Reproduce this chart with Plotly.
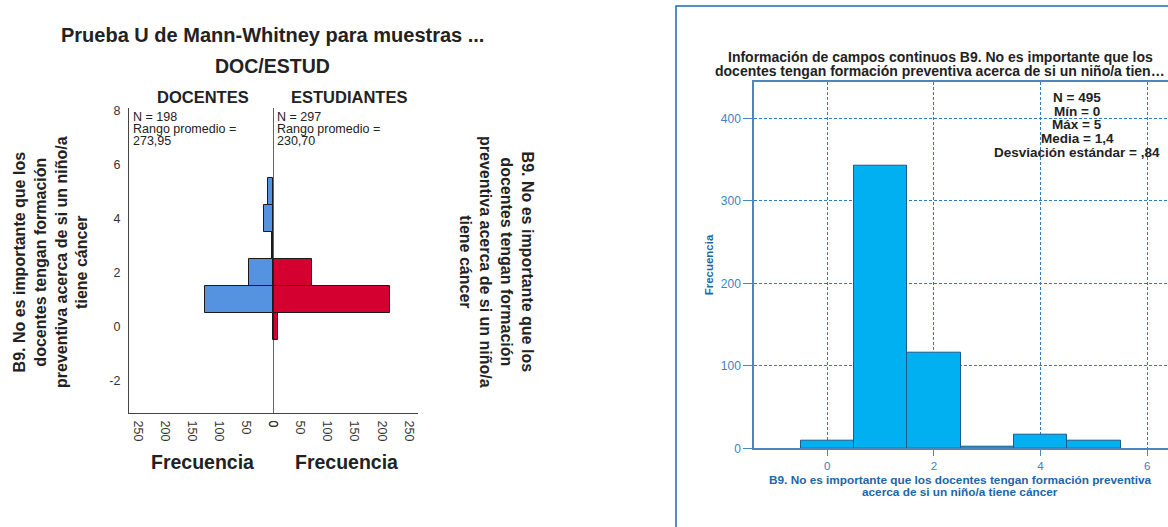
import plotly.graph_objects as go

# ---------------- data ----------------
categories = [0, 1, 2, 3, 4, 5]
docentes = [0, 126, 44, 2, 17, 9]
estudiantes = [9, 216, 72, 0, 0, 0]
total = [d + e for d, e in zip(docentes, estudiantes)]

freq_ticks = [0, 50, 100, 150, 200, 250]
left_y_ticks = [-2, 0, 2, 4, 6, 8]
left_y_labels = ["-2", "0", "2", "4", "6", "8"]
right_x_ticks = [0, 2, 4, 6]
right_y_ticks = [0, 100, 200, 300, 400]

left_title = "Prueba U de Mann-Whitney para muestras ..."
group_title = "DOC/ESTUD"
group_names = ["DOCENTES", "ESTUDIANTES"]
group_stats = [["N = 198", "Rango promedio =", "273,95"],
               ["N = 297", "Rango promedio =", "230,70"]]
var_label = "B9. No es importante que los<br>docentes tengan formación<br>preventiva acerca de si un niño/a<br>tiene cáncer"
right_title_lines = ["Información de campos continuos B9. No es importante que los",
                     "docentes tengan formación preventiva acerca de si un niño/a tien…"]
right_stats = ["N = 495", "Mín = 0", "Máx = 5", "Media = 1,4", "Desviación estándar = ,84"]
right_xtitle_lines = ["B9. No es importante que los docentes tengan formación preventiva",
                      "acerca de si un niño/a tiene cáncer"]

W, H = 1168, 527
def px(x):
    return x / W
def py(y):
    return 1 - y / H

FONT = "Arial, Liberation Sans, sans-serif"
DARK = "#222222"
BLUE_T = "#1b66a8"
BLUE_K = "#3f80c0"
BLUE_G = "#2f7bc4"

fig = go.Figure()

fig.add_trace(go.Bar(x=docentes, y=categories, orientation="h", width=1,
                     marker=dict(color="#5592e0", line=dict(color="#1a1a1a", width=1)),
                     xaxis="x", yaxis="y", showlegend=False))
fig.add_trace(go.Bar(x=estudiantes, y=categories, orientation="h", width=1,
                     marker=dict(color="#d40030", line=dict(color="#1a1a1a", width=1)),
                     xaxis="x2", yaxis="y", showlegend=False))
fig.add_trace(go.Bar(x=categories, y=total, width=1,
                     marker=dict(color="#00b0f0", line=dict(color="#1c5a8c", width=1)),
                     xaxis="x3", yaxis="y3", showlegend=False))

ytop, ybot = 108, 413
y_range = [-3.19, 8.1]
fig.update_layout(
    width=W, height=H, autosize=False, margin=dict(l=0, r=0, t=0, b=0, autoexpand=False),
    paper_bgcolor="white", plot_bgcolor="white",
    font=dict(family=FONT, color=DARK),
    bargap=0,
    xaxis=dict(domain=[px(129), px(273)], range=[267, 0], anchor="y",
               tickvals=freq_ticks, ticktext=[str(v) for v in freq_ticks],
               tickangle=90, tickfont=dict(size=12.5, color="#333"),
               showgrid=False, zeroline=False, showline=True, linecolor="#444", linewidth=1.2,
               ticks="", ticklabelstandoff=4),
    xaxis2=dict(domain=[px(273), px(418)], range=[0, 267], anchor="y",
                tickvals=freq_ticks, ticktext=[str(v) for v in freq_ticks],
                tickangle=90, tickfont=dict(size=12.5, color="#333"),
                showgrid=False, zeroline=False, showline=True, linecolor="#444", linewidth=1.2,
                ticks="", ticklabelstandoff=4),
    yaxis=dict(domain=[py(ybot), py(ytop)], range=y_range, anchor="x",
               tickvals=left_y_ticks, ticktext=left_y_labels, tickfont=dict(size=12.5, color="#333"),
               showgrid=False, zeroline=False, showline=True, linecolor="#444", linewidth=1.2,
               ticks="", ticklabelstandoff=5),
    yaxis2=dict(domain=[py(ybot), py(ytop)], range=y_range, anchor="x2", overlaying="y",
                side="right", tickvals=left_y_ticks, ticktext=left_y_labels,
                tickfont=dict(size=12.5, color="#333"),
                showgrid=False, zeroline=False, showline=True, linecolor="#444", linewidth=1.2,
                ticks="", ticklabelstandoff=7),
    xaxis3=dict(domain=[px(754), 1.0], range=[-1.375, 6.39], anchor="y3",
                tickvals=right_x_ticks, tickfont=dict(size=11.5, color=BLUE_K),
                showgrid=True, gridcolor=BLUE_G, griddash="3px,2px", gridwidth=1,
                zeroline=False, showline=True, mirror=True, linecolor="#4a86c2", linewidth=1.5,
                ticks="outside", ticklen=6, tickcolor="#4a86c2"),
    yaxis3=dict(domain=[py(448.3), py(81.7)], range=[0, 444.4], anchor="x3",
                tickvals=right_y_ticks, tickfont=dict(size=12, color=BLUE_K),
                showgrid=True, gridcolor=BLUE_G, griddash="3px,2px", gridwidth=1,
                zeroline=False, showline=True, mirror=True, linecolor="#4a86c2", linewidth=1.5,
                ticks="outside", ticklen=9, tickcolor="#4a86c2",
                title=dict(text="<b>Frecuencia</b>", font=dict(size=11.5, color=BLUE_T), standoff=5)),
)

# centre line of the population pyramid
fig.add_shape(type="line", xref="x2", yref="paper", x0=0, x1=0,
              y0=py(ybot), y1=py(ytop), line=dict(color="#111", width=1.3))
# outer frame of the right panel
fig.add_shape(type="rect", xref="paper", yref="paper", x0=px(676), x1=1.02,
              y0=-0.02, y1=py(6), line=dict(color="#1b6bb0", width=1.5))

ann = []
def text(x, y, s, size, color=DARK, bold=True, angle=0, xanchor="center"):
    ann.append(dict(x=px(x), y=py(y), xref="paper", yref="paper", text=(f"<b>{s}</b>" if bold else s),
                    showarrow=False, xanchor=xanchor, yanchor="middle", textangle=angle,
                    font=dict(size=size, color=color, family=FONT), align="center"))

text(272, 35, left_title, 20)
text(272, 66, group_title, 19.5)
text(203, 97, group_names[0], 16.5)
text(349, 97, group_names[1], 16.5)
for i, yy in enumerate([117, 129, 141]):
    text(131, yy, group_stats[0][i], 12.5, bold=False, xanchor="left")
    text(275, yy, group_stats[1][i], 12.5, bold=False, xanchor="left")
text(202, 462, "Frecuencia", 19.5)
text(346, 462, "Frecuencia", 19.5)
text(51, 262, var_label, 16, angle=-90)
text(496, 262, var_label, 16, angle=90)

for i, yy in enumerate([57, 71]):
    text(940, yy, right_title_lines[i], 14)
for i, yy in enumerate([97, 111, 124.5, 138, 152]):
    text(1077, yy, right_stats[i], 13.5)
for i, yy in enumerate([480, 492]):
    text(960, yy, right_xtitle_lines[i], 11.8, color=BLUE_T)

fig.update_layout(annotations=ann)
fig.write_html("out.html", config={"displayModeBar": False, "responsive": False},
               post_script="document.body.style.margin='0';document.body.style.overflow='hidden';")
